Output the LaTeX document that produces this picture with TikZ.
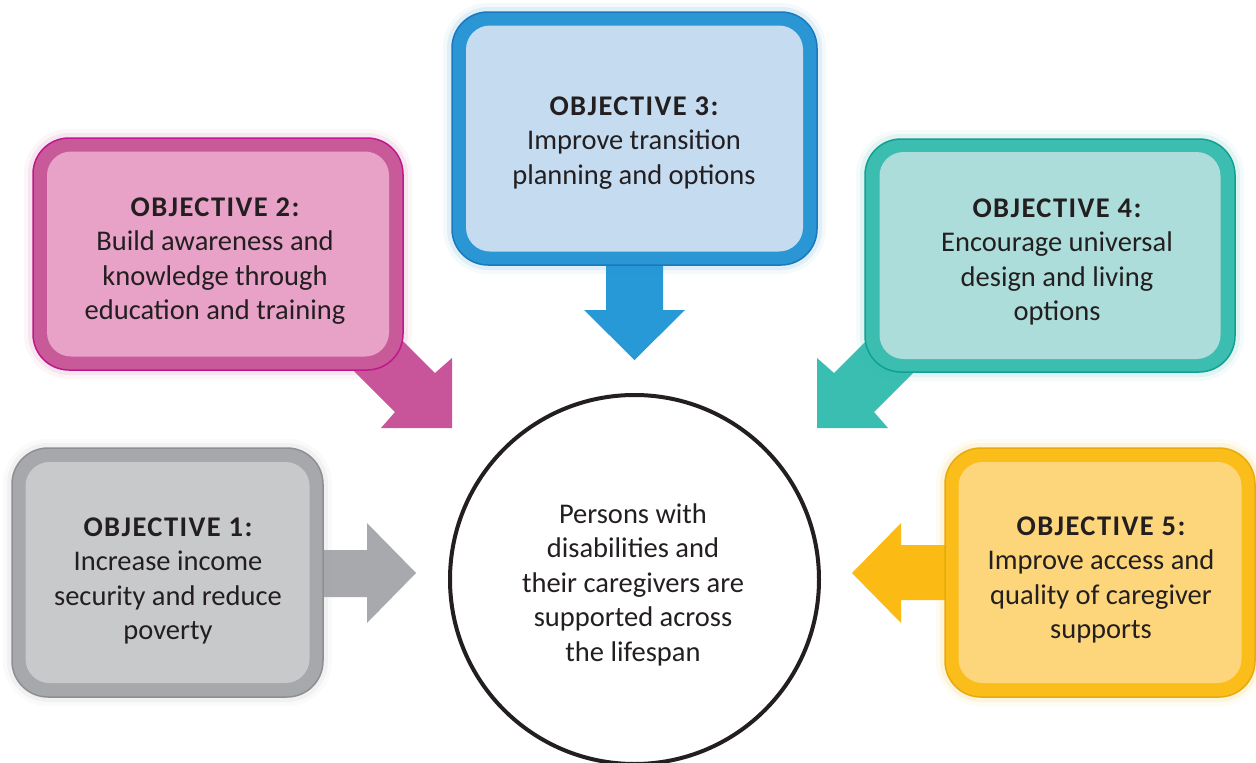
\documentclass[tikz,border=0pt]{standalone}
\usepackage{fontspec}
\setmainfont{Carlito}
\usetikzlibrary{calc}
\definecolor{txtdark}{HTML}{231F20}
\definecolor{grayB}{HTML}{A6A8AB}
\definecolor{grayE}{HTML}{8D8F92}
\definecolor{grayI}{HTML}{C8C9CB}
\definecolor{grayA}{HTML}{A7A9AC}
\definecolor{pinkB}{HTML}{C95A9A}
\definecolor{pinkE}{HTML}{C0188C}
\definecolor{pinkI}{HTML}{E8A2C7}
\definecolor{pinkA}{HTML}{C85599}
\definecolor{blueB}{HTML}{2A96D4}
\definecolor{blueE}{HTML}{1B78BC}
\definecolor{blueI}{HTML}{C4DBF0}
\definecolor{blueA}{HTML}{2799D7}
\definecolor{tealB}{HTML}{3BBDB0}
\definecolor{tealE}{HTML}{10A194}
\definecolor{tealI}{HTML}{ACDDDA}
\definecolor{tealA}{HTML}{39BEB1}
\definecolor{yelB}{HTML}{FBBD1A}
\definecolor{yelE}{HTML}{E8A90C}
\definecolor{yelI}{HTML}{FDD67B}
\definecolor{yelA}{HTML}{FBBA14}
\newcommand\objtitle[1]{{\bfseries\addfontfeature{LetterSpace=5}#1}}
\begin{document}
\begin{tikzpicture}[x=1pt,y=-1pt,
  outerbox/.style args={#1/#2}{rectangle, rounded corners=36pt, fill=#1, draw=#2, line width=1.5pt,
     preaction={draw=#1, line width=18pt, draw opacity=0.05},
     preaction={draw=#1, line width=10pt, draw opacity=0.10}},
  innerbox/.style={rectangle, rounded corners=24pt, fill=#1, draw=none},
  txt/.style={align=center, font=\fontsize{28.5}{34.5}\selectfont, text=txtdark, inner sep=0pt},
  blockarrow/.style={fill=#1, draw=none}]
\useasboundingbox (0,0) rectangle (1256,763);
\clip (0,0) rectangle (1256,763);
\fill[white] (0,0) rectangle (1256,763);

% block arrows (behind boxes)
\fill[blockarrow=grayA] (300,550) -- (367,550) -- (367,523) -- (416,573) -- (367,623) -- (367,597) -- (300,597) -- cycle;
\fill[blockarrow=blueA] (606,240) -- (606,310) -- (584,310) -- (634.5,360) -- (685,310) -- (663,310) -- (663,240) -- cycle;
\fill[blockarrow=yelA] (970,545) -- (901,545) -- (901,523) -- (852,573) -- (901,623) -- (901,600) -- (970,600) -- cycle;
\fill[blockarrow=pinkA] (355,293) -- (435,373) -- (452,358) -- (452,428) -- (381,428) -- (395,412) -- (315,332) -- cycle;
\fill[blockarrow=tealA] (914,293) -- (834,373) -- (817,358) -- (817,428) -- (888,428) -- (874,412) -- (954,332) -- cycle;

% objective boxes
\node[outerbox=grayB/grayE, minimum width=311pt, minimum height=249pt] (o1) at (167.5,572.5) {};
\node[innerbox=grayI, minimum width=284pt, minimum height=221pt] (i1) at (o1.center) {};
\node[txt] (t1) at (168,581) {\objtitle{OBJECTIVE 1:}\\Increase income\\security and reduce\\poverty};

\node[outerbox=pinkB/pinkE, minimum width=370pt, minimum height=232pt] (o2) at (218,254) {};
\node[innerbox=pinkI, minimum width=342pt, minimum height=205pt] (i2) at (o2.center) {};
\node[txt] (t2) at (215,261) {\objtitle{OBJECTIVE 2:}\\Build awareness and\\knowledge through\\education and training};

\node[outerbox=blueB/blueE, minimum width=365pt, minimum height=253pt] (o3) at (634.5,138.5) {};
\node[innerbox=blueI, minimum width=337pt, minimum height=226pt] (i3) at (o3.center) {};
\node[txt] (t3) at (634,143) {\objtitle{OBJECTIVE 3:}\\Improve transition\\planning and options};

\node[outerbox=tealB/tealE, minimum width=370pt, minimum height=233pt] (o4) at (1050,255.5) {};
\node[innerbox=tealI, minimum width=341pt, minimum height=207pt] (i4) at (o4.center) {};
\node[txt] (t4) at (1057,262) {\objtitle{OBJECTIVE 4:}\\Encourage universal\\design and living\\options};

\node[outerbox=yelB/yelE, minimum width=310pt, minimum height=249pt] (o5) at (1100,572.5) {};
\node[innerbox=yelI, minimum width=283pt, minimum height=221pt] (i5) at (o5.center) {};
\node[txt] (t5) at (1101,580) {\objtitle{OBJECTIVE 5:}\\Improve access and\\quality of caregiver\\supports};

% central circle
\node[circle, draw=txtdark, line width=4pt, fill=white, minimum size=369pt, inner sep=0pt] (c) at (634.5,579.5) {};
\node[txt] (ct) at (633,584.5) {Persons with\\disabilities and\\their caregivers are\\supported across\\the lifespan};
\end{tikzpicture}
\end{document}
